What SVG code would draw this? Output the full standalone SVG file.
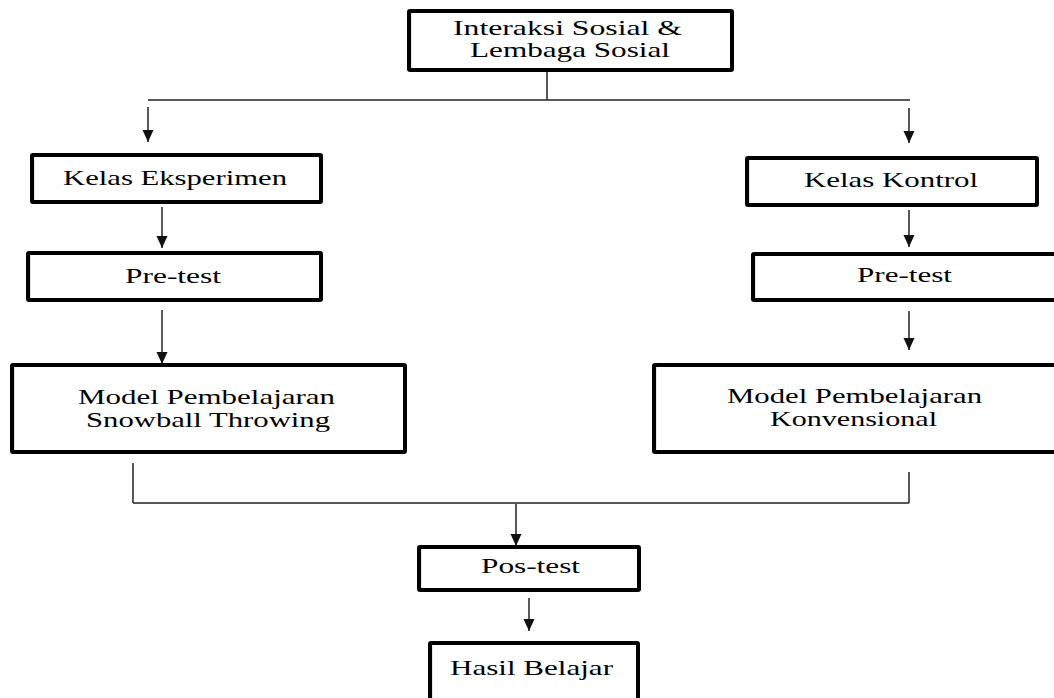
<svg xmlns="http://www.w3.org/2000/svg" width="1054" height="698" viewBox="0 0 1054 698">
<defs>
<style>
.box{fill:#fff;stroke:#000;stroke-width:4;}
.edge{fill:none;stroke:#000;stroke-width:2.2;}
.t{font-family:"Liberation Serif","Times New Roman",serif;font-size:21.5px;fill:#000;}
.c{fill:none;stroke:#222;stroke-width:1.5;}
.a{fill:none;stroke:#222;stroke-width:1.5;marker-end:url(#ah);}
</style>
<marker id="ah" markerUnits="userSpaceOnUse" markerWidth="14" markerHeight="14" viewBox="0 0 14 14" refX="12" refY="7" orient="auto">
<path d="M0,1.5 L12,7 L0,12.5 Z" fill="#111"/>
</marker>
</defs>
<rect width="1054" height="698" fill="#fff"/>
<g id="connectors">
<line class="c" x1="547" y1="72" x2="547" y2="100"/>
<line class="c" x1="148" y1="100" x2="910" y2="100"/>
<line class="a" x1="148" y1="107" x2="148" y2="142"/>
<line class="a" x1="909" y1="108" x2="909" y2="143"/>
<line class="a" x1="162" y1="207" x2="162" y2="248"/>
<line class="a" x1="909" y1="210" x2="909" y2="247"/>
<line class="a" x1="162" y1="310" x2="162" y2="364"/>
<line class="a" x1="909" y1="311" x2="909" y2="350"/>
<line class="c" x1="133" y1="463" x2="133" y2="503"/>
<line class="c" x1="909" y1="472" x2="909" y2="503"/>
<line class="c" x1="133" y1="503" x2="909" y2="503"/>
<line class="a" x1="516" y1="504" x2="516" y2="546"/>
<line class="a" x1="529" y1="598" x2="529" y2="631"/>
</g>
<g id="node-top">
<rect class="box" x="409" y="11" width="323" height="59" rx="1"/>
<line class="edge" x1="410" y1="11" x2="410" y2="70"/>
<text class="t" x="453" y="35" textLength="229" lengthAdjust="spacingAndGlyphs">Interaksi Sosial &amp;</text>
<text class="t" x="470" y="57" textLength="200" lengthAdjust="spacingAndGlyphs">Lembaga Sosial</text>
</g>
<g id="node-kelas-eksperimen">
<rect class="box" x="32" y="155" width="289" height="47" rx="1"/>
<line class="edge" x1="33" y1="155" x2="33" y2="202"/>
<text class="t" x="63" y="185" textLength="224" lengthAdjust="spacingAndGlyphs">Kelas Eksperimen</text>
</g>
<g id="node-pretest-left">
<rect class="box" x="28" y="253" width="293" height="47" rx="1"/>
<line class="edge" x1="29" y1="253" x2="29" y2="300"/>
<text class="t" x="125" y="283" textLength="96" lengthAdjust="spacingAndGlyphs">Pre-test</text>
</g>
<g id="node-model-snowball">
<rect class="box" x="12" y="365" width="393" height="87" rx="1"/>
<line class="edge" x1="13" y1="365" x2="13" y2="452"/>
<text class="t" x="78" y="404" textLength="257" lengthAdjust="spacingAndGlyphs">Model Pembelajaran</text>
<text class="t" x="86" y="427" textLength="244" lengthAdjust="spacingAndGlyphs">Snowball  Throwing</text>
</g>
<g id="node-kelas-kontrol">
<rect class="box" x="747" y="158" width="290" height="47" rx="1"/>
<line class="edge" x1="748" y1="158" x2="748" y2="205"/>
<text class="t" x="804" y="187" textLength="174" lengthAdjust="spacingAndGlyphs">Kelas Kontrol</text>
</g>
<g id="node-pretest-right">
<rect class="box" x="753" y="254" width="310" height="46" rx="1"/>
<line class="edge" x1="754" y1="254" x2="754" y2="300"/>
<text class="t" x="857" y="282" textLength="95" lengthAdjust="spacingAndGlyphs">Pre-test</text>
</g>
<g id="node-model-konvensional">
<rect class="box" x="654" y="365" width="410" height="87" rx="1"/>
<line class="edge" x1="655" y1="365" x2="655" y2="452"/>
<text class="t" x="727" y="403" textLength="255" lengthAdjust="spacingAndGlyphs">Model Pembelajaran</text>
<text class="t" x="770" y="426" textLength="167" lengthAdjust="spacingAndGlyphs">Konvensional</text>
</g>
<g id="node-postest">
<rect class="box" x="419" y="547" width="220" height="43" rx="1"/>
<line class="edge" x1="420" y1="547" x2="420" y2="590"/>
<text class="t" x="481" y="573" textLength="99" lengthAdjust="spacingAndGlyphs">Pos-test</text>
</g>
<g id="node-hasil">
<rect class="box" x="430" y="643" width="208" height="70" rx="1"/>
<line class="edge" x1="431" y1="643" x2="431" y2="713"/>
<text class="t" x="450" y="675" textLength="163" lengthAdjust="spacingAndGlyphs">Hasil  Belajar</text>
</g>
</svg>
